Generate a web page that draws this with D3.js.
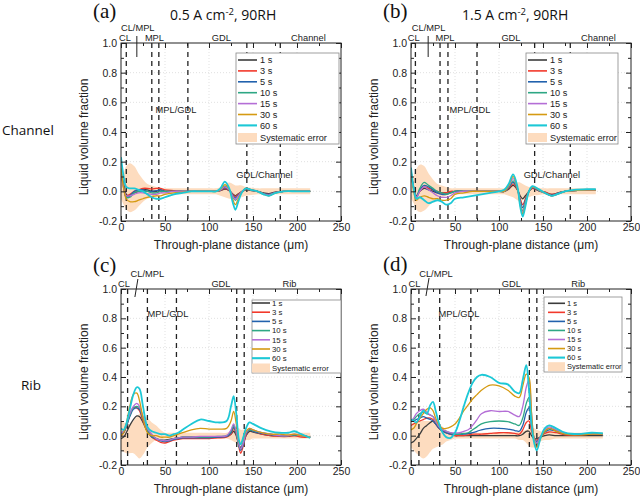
<!DOCTYPE html>
<html><head><meta charset="utf-8">
<script src="https://cdn.jsdelivr.net/npm/d3@7"></script>
<style>body{margin:0;background:#fff}svg{display:block}</style>
</head><body>
<svg id="chart" width="640" height="499"></svg>
<script>
// ---------- shared labels ----------
const seriesNames = ["1 s","3 s","5 s","10 s","15 s","30 s","60 s"];
const bandName = "Systematic error";
const xTicks = [0,50,100,150,200,250];
const xMinorTicks = [25,75,125,175,225];
const yTicks = [-0.2,0.0,0.2,0.4,0.6,0.8,1.0];
const yMinorTicks = [-0.1,0.1,0.3,0.5,0.7,0.9];
const rowLabels = ["Channel","Rib"];
const panelLetters = ["(a)","(b)","(c)","(d)"];
const titles = [["0.5 A cm","-2",", 90RH"],["1.5 A cm","-2",", 90RH"]];

// ---------- panel (a): 0.5 A/cm2, channel ----------
const distA = [0,3,6,10,15,20,25,30,35,40,45,50,60,70,80,90,100,108,113,118,123,127,130,133,137,142,148,155,162,168,175,185,200,215];
const a1s  = [0.13,0.05,-0.02,-0.03,-0.01,0.0,0.01,0.01,0.0,0.0,0.01,0.0,0.0,0.0,0.0,0.0,0.0, 0.0,0.005,0.015,0.005,-0.018,-0.03,-0.018,-0.003,0.01,0.005,0.0,-0.01,-0.015,-0.005,0.0,0.0,0.0];
const a3s  = [0.12,0.04,-0.03,-0.02,0.0,0.01,0.02,0.02,0.015,0.02,0.02,0.01,0.005,0.0,0.0,0.0,0.0, 0.0,0.006,0.02,0.006,-0.021,-0.035,-0.021,-0.003,0.015,0.008,0.0,-0.015,-0.02,-0.008,0.0,0.0,0.0];
const a5s  = [0.14,0.03,-0.04,-0.03,0.0,0.01,0.01,0.0,0.0,0.005,0.01,0.0,0.0,0.0,0.0,0.0,0.0, 0.0,0.008,0.025,0.008,-0.027,-0.045,-0.027,-0.004,0.018,0.008,0.0,-0.015,-0.02,-0.008,0.0,0.0,0.0];
const a10s = [0.15,0.03,-0.04,-0.04,-0.01,0.0,0.0,0.0,-0.01,-0.01,0.0,0.0,0.0,0.0,0.0,0.0,0.0, 0.0,0.01,0.035,0.01,-0.036,-0.06,-0.036,-0.006,0.02,0.01,0.0,-0.018,-0.025,-0.01,0.0,0.0,0.0];
const a15s = [0.13,0.02,-0.03,-0.03,-0.02,-0.01,-0.01,-0.015,-0.02,-0.02,-0.01,-0.01,0.0,0.0,0.0,0.0,0.0, 0.0,0.01,0.03,0.01,-0.033,-0.055,-0.033,-0.005,0.02,0.01,0.0,-0.018,-0.025,-0.01,0.0,0.0,0.0];
const a30s = [0.16,0.02,-0.05,-0.07,-0.07,-0.06,-0.05,-0.04,-0.035,-0.03,-0.03,-0.02,-0.01,-0.005,0.0,0.0,0.0, 0.0,0.014,0.045,0.014,-0.054,-0.09,-0.054,-0.009,0.02,0.01,0.0,-0.02,-0.03,-0.012,0.0,0.0,0.0];
const a60s = [0.23,0.1,0.03,0.02,0.02,0.01,0.0,-0.02,-0.04,-0.05,-0.05,-0.04,-0.02,-0.01,0.0,0.0,0.0, 0.0,0.02,0.065,0.02,-0.075,-0.124,-0.075,-0.012,0.02,0.01,0.0,-0.02,-0.03,-0.012,0.0,0.0,0.0];
const aErrHi = [0.08,0.12,0.17,0.19,0.17,0.12,0.08,0.05,0.04,0.03,0.02,0.02,0.02,0.02,0.02,0.02,0.02, 0.02,0.03,0.05,0.06,0.05,0.04,0.04,0.04,0.03,0.025,0.02,0.02,0.02,0.02,0.02,0.02,0.02];
const aErrLo = [-0.05,-0.09,-0.12,-0.14,-0.13,-0.1,-0.07,-0.05,-0.04,-0.03,-0.02,-0.02,-0.02,-0.02,-0.02,-0.02,-0.02, -0.02,-0.03,-0.04,-0.05,-0.05,-0.05,-0.04,-0.04,-0.03,-0.025,-0.02,-0.02,-0.02,-0.02,-0.02,-0.02,-0.02];
const aBounds = [6,35,43,76,143,181];

// ---------- panel (b): 1.5 A/cm2, channel ----------
const distB = [0,3,6,10,15,20,25,30,35,40,45,50,60,70,80,90,100,106,111,116,121,124,127,130,134,138,145,152,160,168,175,185,200,210];
const b1s  = [0.12,0.03,-0.03,0.0,0.02,0.01,0.0,-0.01,-0.01,-0.01,-0.005,0.0,0.0,0.0,0.0,0.0,0.0, 0.0,0.015,0.04,0.01,-0.03,-0.05,-0.03,0.0,0.02,0.005,-0.005,-0.02,-0.01,0.0,0.005,0.01,0.01];
const b3s  = [0.13,0.02,-0.04,0.0,0.03,0.02,0.01,0.0,-0.01,-0.01,0.0,0.0,0.0,0.0,0.0,0.0,0.0, 0.0,0.02,0.05,0.01,-0.05,-0.09,-0.05,0.0,0.02,0.005,-0.005,-0.02,-0.01,0.0,0.005,0.01,0.01];
const b5s  = [0.14,0.02,-0.04,0.01,0.04,0.03,0.01,-0.01,-0.02,-0.02,-0.01,0.0,0.0,0.0,0.0,0.0,0.0, 0.0,0.025,0.06,0.015,-0.06,-0.11,-0.06,0.0,0.025,0.005,-0.01,-0.025,-0.01,0.0,0.005,0.01,0.01];
const b10s = [0.15,0.02,-0.04,0.02,0.06,0.04,0.02,0.0,-0.01,-0.02,-0.01,0.0,0.0,0.0,0.0,0.0,0.0, 0.0,0.03,0.07,0.015,-0.07,-0.13,-0.07,0.0,0.03,0.01,-0.01,-0.03,-0.015,0.0,0.005,0.01,0.01];
const b15s = [0.14,0.02,-0.04,0.0,0.03,0.01,-0.01,-0.03,-0.04,-0.04,-0.03,-0.01,0.0,0.0,0.0,0.0,0.0, 0.0,0.035,0.085,0.02,-0.08,-0.14,-0.08,0.0,0.03,0.01,-0.01,-0.03,-0.015,0.0,0.005,0.01,0.01];
const b30s = [0.15,0.0,-0.06,-0.04,-0.03,-0.04,-0.05,-0.05,-0.06,-0.06,-0.05,-0.02,-0.01,0.0,0.0,0.0,0.0, 0.0,0.04,0.1,0.02,-0.09,-0.15,-0.09,0.0,0.03,0.01,-0.01,-0.03,-0.015,0.0,0.005,0.01,0.01];
const b60s = [0.16,0.02,-0.05,-0.04,-0.06,-0.08,-0.07,-0.06,-0.07,-0.09,-0.08,-0.05,-0.04,-0.03,-0.02,-0.01,0.0, 0.01,0.05,0.115,0.03,-0.1,-0.17,-0.1,0.0,0.035,0.015,-0.01,-0.03,-0.015,0.0,0.01,0.015,0.015];
const bErrHi = [0.05,0.1,0.15,0.18,0.17,0.12,0.08,0.05,0.04,0.03,0.02,0.02,0.02,0.02,0.02,0.02,0.02, 0.02,0.03,0.05,0.06,0.06,0.05,0.04,0.03,0.03,0.025,0.02,0.02,0.02,0.02,0.02,0.02,0.02];
const bErrLo = [-0.05,-0.08,-0.12,-0.14,-0.13,-0.1,-0.07,-0.05,-0.04,-0.03,-0.02,-0.02,-0.02,-0.02,-0.02,-0.02,-0.02, -0.02,-0.03,-0.04,-0.06,-0.07,-0.06,-0.05,-0.04,-0.03,-0.025,-0.02,-0.02,-0.02,-0.02,-0.02,-0.02,-0.02];
const bBounds = [5,33,42,75,140.5,181];

// ---------- panel (c): 0.5 A/cm2, rib ----------
const distC = [0,3,6,10,14,18,21,25,30,35,40,45,50,55,60,65,70,80,90,100,110,120,125,128,131,134,136,139,142,146,150,160,170,180,190,197,205,215];
const c1s  = [-0.02,-0.01,0.02,0.07,0.11,0.135,0.13,0.09,0.03,0.0, -0.02,-0.03,-0.03,-0.025,-0.02, -0.015,-0.01,-0.01,-0.01,-0.01, -0.01,-0.005,0.01,0.03,0.0, -0.06,-0.08,-0.05,0.0,0.03, 0.025,0.01,0.0,0.0,0.0, 0.0,0.0,-0.01];
const c3s  = [0.0,0.02,0.06,0.14,0.19,0.19,0.17,0.1,0.03,-0.01, -0.03,-0.045,-0.05,-0.04,-0.03, -0.025,-0.02,-0.02,-0.02,-0.02, -0.015,-0.01,0.01,0.05,0.01, -0.08,-0.12,-0.07,0.0,0.04, 0.03,0.01,0.0,-0.005,-0.005, 0.0,-0.01,-0.01];
const c5s  = [0.01,0.02,0.06,0.13,0.18,0.19,0.18,0.11,0.03,-0.01, -0.02,-0.035,-0.04,-0.035,-0.025, -0.02,-0.015,-0.015,-0.015,-0.015, -0.01,-0.005,0.02,0.06,0.02, -0.07,-0.1,-0.06,0.01,0.04, 0.03,0.015,0.005,0.0,0.0, 0.005,0.0,-0.01];
const c10s = [0.02,0.03,0.07,0.14,0.19,0.2,0.19,0.12,0.04,0.0, -0.02,-0.03,-0.035,-0.03,-0.02, -0.015,-0.01,-0.01,-0.01,-0.01, -0.005,0.0,0.03,0.07,0.02, -0.07,-0.09,-0.05,0.02,0.04, 0.035,0.02,0.01,0.0,0.0, 0.005,0.0,-0.01];
const c15s = [0.02,0.03,0.08,0.15,0.2,0.22,0.2,0.13,0.05,0.01, -0.02,-0.03,-0.035,-0.03,-0.02, -0.015,-0.01,-0.01,-0.005,-0.005, -0.005,0.0,0.04,0.08,0.03, -0.06,-0.09,-0.05,0.02,0.05, 0.04,0.02,0.01,0.0,0.0, 0.01,0.0,-0.01];
const c30s = [0.0,0.02,0.08,0.2,0.28,0.29,0.24,0.12,0.02,0.0, 0.0,-0.01,-0.01,-0.01,0.0, 0.01,0.02,0.04,0.05,0.045, 0.045,0.05,0.1,0.165,0.08, -0.04,-0.06,-0.02,0.03,0.05, 0.04,0.02,0.01,0.01,0.005, 0.01,0.0,-0.01];
const c60s = [0.05,0.04,0.08,0.18,0.28,0.33,0.32,0.2,0.06,0.03, 0.02,0.01,0.01,0.0,0.01, 0.02,0.04,0.08,0.11,0.1, 0.09,0.1,0.2,0.27,0.15, -0.03,-0.06,-0.01,0.05,0.09, 0.08,0.05,0.03,0.02,0.02, 0.03,0.01,-0.015];
const cErrHi = [0.1,0.09,0.08,0.08,0.1,0.13,0.15,0.14,0.12,0.09, 0.07,0.04,0.02,0.02,0.02, 0.02,0.02,0.02,0.02,0.02, 0.02,0.02,0.03,0.04,0.05, 0.05,0.04,0.04,0.03,0.03, 0.02,0.02,0.02,0.02,0.02, 0.02,0.02,0.02];
const cErrLo = [-0.1,-0.11,-0.12,-0.12,-0.12,-0.14,-0.155,-0.13,-0.08,-0.05, -0.03,-0.03,-0.02,-0.02,-0.02, -0.02,-0.02,-0.02,-0.02,-0.02, -0.02,-0.02,-0.03,-0.04,-0.05, -0.06,-0.05,-0.04,-0.03,-0.03, -0.02,-0.02,-0.02,-0.02,-0.02, -0.02,-0.02,-0.02];
const cBounds = [7.5,30,63,131.5,140];

// ---------- panel (d): 1.5 A/cm2, rib ----------
const distD = [0,3,6,10,14,18,22,25,28,32,36,40,45,50,55,60,65,70,75,80,90,100,110,118,123,127,131,134,137,140,143,147,152,157,165,175,190,205,218];
const d1s  = [-0.05,-0.04,-0.02,0.01,0.05,0.07, 0.09,0.1,0.08,0.05,0.03, 0.02,0.01,0.0,0.0,0.0, 0.0,0.0,0.0,0.0,0.0, 0.0,0.0,0.0,0.0,0.01, 0.03,0.03,0.0,-0.02,-0.02, -0.01,0.0,0.005,0.0,0.0, 0.0,0.0,0.0];
const d3s  = [0.07,0.08,0.09,0.1,0.11,0.12, 0.12,0.11,0.08,0.05,0.03, 0.02,0.01,0.0,0.0,0.0, 0.005,0.01,0.01,0.01,0.015, 0.02,0.02,0.015,0.01,0.04, 0.09,0.1,0.03,-0.02,-0.03, -0.01,0.015,0.025,0.02,0.005, 0.005,0.01,0.01];
const d5s  = [0.1,0.1,0.11,0.12,0.13,0.12, 0.11,0.1,0.08,0.05,0.03, 0.02,0.01,0.01,0.01,0.01, 0.015,0.02,0.03,0.04,0.05, 0.05,0.045,0.035,0.03,0.07, 0.16,0.19,0.07,-0.02,-0.04, -0.01,0.025,0.04,0.03,0.01, 0.01,0.01,0.01];
const d10s = [0.1,0.11,0.13,0.15,0.16,0.15, 0.14,0.13,0.1,0.06,0.04, 0.03,0.02,0.01,0.01,0.015, 0.02,0.04,0.06,0.08,0.095, 0.1,0.095,0.08,0.07,0.12, 0.22,0.26,0.1,-0.02,-0.05, -0.01,0.03,0.05,0.035,0.015, 0.01,0.015,0.015];
const d15s = [0.1,0.12,0.15,0.17,0.18,0.16, 0.14,0.13,0.1,0.06,0.04, 0.03,0.02,0.02,0.02,0.03, 0.04,0.07,0.11,0.15,0.17, 0.165,0.165,0.14,0.13,0.2, 0.33,0.38,0.15,-0.02,-0.05, -0.01,0.04,0.06,0.04,0.015, 0.01,0.01,0.01];
const d30s = [0.04,0.05,0.08,0.12,0.15,0.18, 0.19,0.17,0.12,0.07,0.05, 0.05,0.06,0.08,0.12,0.17, 0.21,0.25,0.28,0.31,0.345, 0.34,0.31,0.27,0.26,0.34, 0.42,0.4,0.15,-0.03,-0.08, -0.02,0.03,0.05,0.03,0.01, 0.005,0.01,0.01];
const d60s = [0.11,0.1,0.09,0.13,0.17,0.15, 0.21,0.23,0.17,0.08,0.02, -0.01,-0.015,0.02,0.1,0.2, 0.29,0.36,0.4,0.415,0.40, 0.36,0.35,0.3,0.29,0.38, 0.48,0.32,0.08,-0.05,-0.1, -0.02,0.05,0.07,0.05,0.02, 0.01,0.02,0.015];
const dErrHi = [0.08,0.09,0.1,0.1,0.1,0.1, 0.1,0.1,0.09,0.08,0.06, 0.04,0.02,0.02,0.02,0.02, 0.02,0.02,0.02,0.02,0.02, 0.02,0.02,0.02,0.03,0.03, 0.04,0.05,0.05,0.05,0.04, 0.03,0.03,0.03,0.02,0.02, 0.02,0.02,0.02];
const dErrLo = [-0.08,-0.1,-0.12,-0.14,-0.155,-0.14, -0.11,-0.09,-0.08,-0.07,-0.06, -0.04,-0.03,-0.02,-0.02,-0.02, -0.02,-0.02,-0.02,-0.02,-0.02, -0.02,-0.02,-0.02,-0.03,-0.03, -0.05,-0.07,-0.08,-0.08,-0.06, -0.04,-0.03,-0.03,-0.02,-0.02, -0.02,-0.02,-0.02];
const dBounds = [9,32.6,68,134.5,143];

// ---------- styling ----------
const colors = ["#3b3b3b","#f2392b","#2262ad","#2ea784","#b46ed6","#d59a12","#1cc8d6"];
const widths = [1.3,1.3,1.3,1.3,1.3,1.3,1.8];
const bandColor = "#fddcbf";
const FONT = "'Liberation Sans', Arial, sans-serif";

const svg = d3.select("#chart");

const panels = [
  { id:"a", dist:distA, series:[a1s,a3s,a5s,a10s,a15s,a30s,a60s], lo:aErrLo, hi:aErrHi, bounds:aBounds,
    left:121, right:341, top:43, bottom:221, letter:panelLetters[0], letterPos:[93,18], title:titles[0], titlePos:[170,20],
    marker:[18,18,-7,14],
    labels:[["CL",4.5,-2],["CL/MPL",19,-12.5],["MPL",38,-2],["GDL",114,-2],["Channel",213,-2]],
    inner:[["MPL/GDL",62.5,70],["GDL/Channel",163,0.09]],
    legend:{x:236,y:53,w:103,h:91,row0:60,rowH:10.9,sysY:137.5,l1:238,l2:257,tx:260,fs:9.2} },
  { id:"b", dist:distB, series:[b1s,b3s,b5s,b10s,b15s,b30s,b60s], lo:bErrLo, hi:bErrHi, bounds:bBounds,
    left:411, right:631, top:43, bottom:221, letter:panelLetters[1], letterPos:[383,18], title:titles[1], titlePos:[462,20],
    marker:[19.5,19.5,-7,14],
    labels:[["CL",3,-2],["CL/MPL",20,-12.5],["MPL",38.6,-2],["GDL",113.6,-2],["Channel",213,-2]],
    inner:[["MPL/GDL",67,70],["GDL/Channel",160,0.09]],
    legend:{x:526,y:53,w:92,h:91,row0:60,rowH:10.9,sysY:137.5,l1:528,l2:547,tx:550,fs:9.2} },
  { id:"c", dist:distC, series:[c1s,c3s,c5s,c10s,c15s,c30s,c60s], lo:cErrLo, hi:cErrHi, bounds:cBounds,
    left:121, right:341, top:289, bottom:465, letter:panelLetters[2], letterPos:[93,272], title:null,
    marker:[19.2,15.8,-10,8],
    labels:[["CL",3.4,-2],["CL/MPL",30,-12.5],["GDL",113.6,-2],["Rib",191.5,-2]],
    inner:[["MPL/GDL",53.4,316.5-289]],
    legend:{x:252,y:300,w:89,h:73,row0:303,rowH:9.2,sysY:368,l1:252,l2:270,tx:272,fs:7.8} },
  { id:"d", dist:distD, series:[d1s,d3s,d5s,d10s,d15s,d30s,d60s], lo:dErrLo, hi:dErrHi, bounds:dBounds,
    left:411, right:631, top:289, bottom:465, letter:panelLetters[3], letterPos:[383,271], title:null,
    marker:[20.5,17,-11,7],
    labels:[["CL",4,-2],["CL/MPL",28.4,-12.5],["GDL",114,-2],["Rib",190,-2]],
    inner:[["MPL/GDL",54.5,316.5-289]],
    legend:{x:544,y:297,w:78,h:75,row0:303.3,rowH:9.05,sysY:366.7,l1:548,l2:565,tx:567,fs:7.5} }
];

function drawPanel(p){
  const x = d3.scaleLinear().domain([0,250]).range([p.left,p.right]);
  const y = d3.scaleLinear().domain([-0.2,1.0]).range([p.bottom,p.top]);
  const g = svg.append("g");
  const clipId = "clip-"+p.id;
  svg.append("clipPath").attr("id",clipId).append("rect")
    .attr("x",p.left).attr("y",p.top).attr("width",p.right-p.left).attr("height",p.bottom-p.top);

  // grid
  const grid = g.append("g").attr("stroke","#d9d9d9").attr("stroke-width",0.8).attr("stroke-dasharray","1,2");
  grid.selectAll(".gx").data(xTicks.slice(1,-1)).join("line")
    .attr("x1",d=>x(d)).attr("x2",d=>x(d)).attr("y1",p.top).attr("y2",p.bottom);
  grid.selectAll(".gy").data(yTicks.slice(1,-1)).join("line")
    .attr("y1",d=>y(d)).attr("y2",d=>y(d)).attr("x1",p.left).attr("x2",p.right);

  const plot = g.append("g").attr("clip-path","url(#"+clipId+")");
  // systematic error band
  const area = d3.area().x((d,i)=>x(p.dist[i])).y0((d,i)=>y(p.lo[i])).y1((d,i)=>y(p.hi[i])).curve(d3.curveCatmullRom);
  plot.append("path").datum(p.dist).attr("d",area).attr("fill",bandColor).attr("stroke","none");

  // boundary dashed lines
  plot.selectAll(".bd").data(p.bounds).join("line")
    .attr("x1",d=>x(d)).attr("x2",d=>x(d)).attr("y1",p.top).attr("y2",p.bottom)
    .attr("stroke","#222").attr("stroke-width",1.3).attr("stroke-dasharray","5,4");

  // series
  const line = d3.line().x((d,i)=>x(p.dist[i])).y(d=>y(d)).curve(d3.curveCatmullRom);
  p.series.forEach((s,k)=>{
    plot.append("path").datum(s).attr("d",line).attr("fill","none")
      .attr("stroke",colors[k]).attr("stroke-width",widths[k]).attr("stroke-linejoin","round");
  });

  // axes
  const fmt = d=>d.toFixed(1);
  const ax = g.append("g").attr("font-family",FONT);
  const bottom = ax.append("g").attr("transform",`translate(0,${p.bottom})`)
    .call(d3.axisBottom(x).tickValues(xTicks).tickSize(-5).tickPadding(3).tickFormat(d3.format("d")));
  ax.append("g").attr("transform",`translate(0,${p.bottom})`)
    .call(d3.axisBottom(x).tickValues(xMinorTicks).tickSize(-3).tickFormat(""));
  ax.append("g").attr("transform",`translate(0,${p.top})`)
    .call(d3.axisTop(x).tickValues(xTicks).tickSize(-5).tickFormat(""));
  ax.append("g").attr("transform",`translate(0,${p.top})`)
    .call(d3.axisTop(x).tickValues(xMinorTicks).tickSize(-3).tickFormat(""));
  ax.append("g").attr("transform",`translate(${p.left},0)`)
    .call(d3.axisLeft(y).tickValues(yTicks).tickSize(-5).tickPadding(4).tickFormat(fmt));
  ax.append("g").attr("transform",`translate(${p.left},0)`)
    .call(d3.axisLeft(y).tickValues(yMinorTicks).tickSize(-3).tickFormat(""));
  ax.append("g").attr("transform",`translate(${p.right},0)`)
    .call(d3.axisRight(y).tickValues(yTicks).tickSize(-5).tickFormat(""));
  ax.append("g").attr("transform",`translate(${p.right},0)`)
    .call(d3.axisRight(y).tickValues(yMinorTicks).tickSize(-3).tickFormat(""));
  ax.selectAll(".domain").remove();
  ax.selectAll(".tick line").attr("stroke","#222").attr("stroke-width",1);
  ax.selectAll(".tick text").attr("font-size",10.5).attr("fill","#222").attr("font-family",FONT);

  // frame
  g.append("rect").attr("x",p.left).attr("y",p.top).attr("width",p.right-p.left).attr("height",p.bottom-p.top)
    .attr("fill","none").attr("stroke","#222").attr("stroke-width",1);

  // axis titles
  g.append("text").attr("x",(p.left+p.right)/2).attr("y",p.bottom+28).attr("text-anchor","middle")
    .attr("font-family",FONT).attr("font-size",12).attr("fill","#222").text("Through-plane distance (\u03bcm)");
  g.append("text").attr("transform",`translate(${p.left-33},${(p.top+p.bottom)/2+5}) rotate(-90)`)
    .attr("text-anchor","middle").attr("font-family",FONT).attr("font-size",12).attr("fill","#222")
    .text("Liquid volume fraction");

  // CL/MPL marker line
  g.append("line").attr("x1",x(p.marker[0])).attr("x2",x(p.marker[1]))
    .attr("y1",p.top+p.marker[2]).attr("y2",p.top+p.marker[3]).attr("stroke","#222").attr("stroke-width",1);

  // region labels
  g.selectAll(".rl").data(p.labels).join("text")
    .attr("x",d=>x(d[1])).attr("y",d=>p.top+d[2]).attr("text-anchor","middle")
    .attr("font-family",FONT).attr("font-size",9.3).attr("fill","#222").text(d=>d[0]);
  g.selectAll(".il").data(p.inner).join("text")
    .attr("x",d=>x(d[1])).attr("y",d=>d[0]==="MPL/GDL" ? p.top+d[2] : y(d[2]))
    .attr("text-anchor","middle").attr("font-family",FONT).attr("font-size",9.3).attr("fill","#222").text(d=>d[0]);

  // legend
  const L = p.legend;
  const lg = g.append("g").attr("font-family",FONT).attr("font-size",L.fs).attr("fill","#222");
  lg.append("rect").attr("x",L.x).attr("y",L.y).attr("width",L.w).attr("height",L.h)
    .attr("fill","#fff").attr("stroke","#888").attr("stroke-width",0.8);
  seriesNames.forEach((n,k)=>{
    const yy = L.row0 + k*L.rowH;
    lg.append("line").attr("x1",L.l1).attr("x2",L.l2).attr("y1",yy).attr("y2",yy)
      .attr("stroke",colors[k]).attr("stroke-width",widths[k]+0.3);
    lg.append("text").attr("x",L.tx).attr("y",yy).attr("dy","0.35em").text(n);
  });
  lg.append("rect").attr("x",L.l1).attr("y",L.sysY-4.5).attr("width",L.l2-L.l1).attr("height",9).attr("fill",bandColor);
  lg.append("text").attr("x",L.tx).attr("y",L.sysY).attr("dy","0.35em").text(bandName);

  // panel letter
  g.append("text").attr("x",p.letterPos[0]).attr("y",p.letterPos[1])
    .attr("font-family","'Liberation Serif','Times New Roman',serif").attr("font-size",21).attr("fill","#111").text(p.letter);
  if(p.title){
    const t = g.append("text").attr("x",p.titlePos[0]).attr("y",p.titlePos[1])
      .attr("font-family","'Open Sans',sans-serif").attr("font-size",14).attr("fill","#111");
    t.append("tspan").text(p.title[0]);
    t.append("tspan").attr("font-size",9.5).attr("dy",-5.5).text(p.title[1]);
    t.append("tspan").attr("dy",5.5).text(p.title[2]);
  }
}

panels.forEach(drawPanel);

// row labels
svg.append("text").attr("x",2).attr("y",135).attr("font-family","'Open Sans',sans-serif")
  .attr("font-size",13.5).attr("fill","#111").text(rowLabels[0]);
svg.append("text").attr("x",31).attr("y",390).attr("text-anchor","middle").attr("font-family","'Open Sans',sans-serif")
  .attr("font-size",13.5).attr("fill","#111").text(rowLabels[1]);
</script>
</body></html>
